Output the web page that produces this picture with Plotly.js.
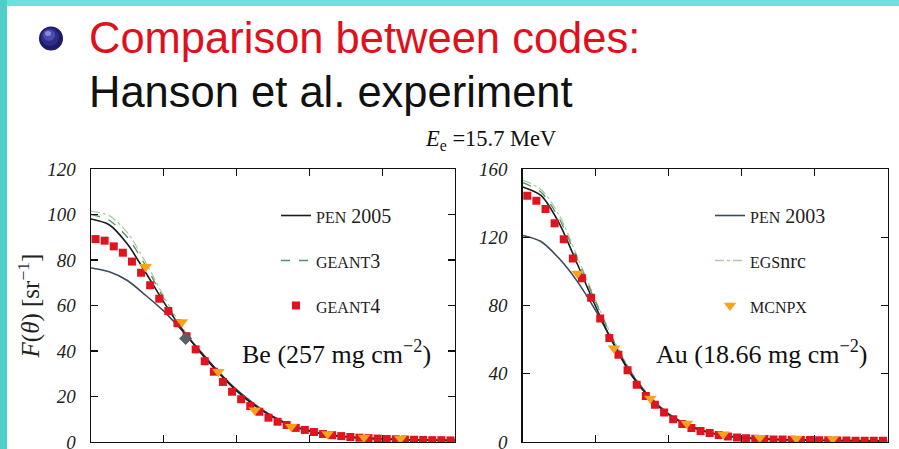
<!DOCTYPE html>
<html>
<head>
<meta charset="utf-8">
<script src="https://cdn.plot.ly/plotly-3.0.1.min.js"></script>
<style>html,body{margin:0;padding:0;background:#fff;}#chart{width:899px;height:449px;}</style>
</head>
<body>
<div id="chart"></div>
<script>
// ---- data ----
const xCurve = [0, 0.25, 0.5, 0.75, 1.0, 1.25, 1.5, 1.75, 2.0, 2.25, 2.5, 2.75, 3.0, 3.25, 3.5, 3.75, 4.0, 4.5, 5.0];

// Be (257 mg cm^-2)
const pen2005Be = [98, 95.5, 87, 74.5, 61.5, 49.5, 39.5, 30.5, 22.5, 16, 11, 7.2, 4.8, 3.3, 2.3, 1.7, 1.3, 0.9, 0.7];
const pen2003Be = [76.5, 74.8, 71, 64.5, 57.5, 49, 40, 31, 23, 16.5, 11.2, 7.4, 5, 3.4, 2.4, 1.8, 1.4, 0.9, 0.7];
const geant3Be  = [100, 97.5, 90, 77.5, 63, 50, 39.5, 30.5, 22.5, 16, 11, 7.2, 4.8, 3.2, 2.2, 1.6, 1.2, 0.8, 0.6];
const egsnrcBe  = [101.5, 99.5, 92, 79, 64, 50.5, 39.8, 30.8, 22.8, 16.2, 11.2, 7.3, 4.9, 3.3, 2.3, 1.7, 1.3, 0.9, 0.7];

// Au (18.66 mg cm^-2)
const pen2005Au = [149.5, 144.5, 128.2, 104.2, 79.4, 57, 38.5, 25.5, 16, 10, 6.2, 3.8, 2.5, 1.8, 1.4, 1.2, 1.0, 0.8, 0.6];
const pen2003Au = [121, 117.5, 107.5, 94, 77, 57.5, 39.5, 26, 16.5, 10.2, 6.3, 3.9, 2.6, 1.9, 1.5, 1.2, 1.0, 0.8, 0.6];
const geant3Au  = [152, 146.5, 131, 107, 82, 59, 40, 26.3, 16.5, 10.2, 6.3, 3.9, 2.5, 1.8, 1.4, 1.2, 1.0, 0.8, 0.6];
const egsnrcAu  = [153.5, 148, 133, 108.5, 83, 59.5, 40.5, 26.5, 16.7, 10.3, 6.4, 3.9, 2.5, 1.8, 1.4, 1.2, 1.0, 0.8, 0.6];

// GEANT4 (squares)
const xSquares = [0.0625, 0.1875, 0.3125, 0.4375, 0.5625, 0.6875, 0.8125, 0.9375, 1.0625, 1.1875,
                  1.3125, 1.4375, 1.5625, 1.6875, 1.8125, 1.9375, 2.0625, 2.1875, 2.3125, 2.4375,
                  2.5625, 2.6875, 2.8125, 2.9375, 3.0625, 3.1875, 3.3125, 3.4375, 3.5625, 3.6875,
                  3.8125, 3.9375, 4.0625, 4.1875, 4.3125, 4.4375, 4.5625, 4.6875, 4.8125, 4.9375];
const geant4Be = [89.2, 88.5, 86, 83.2, 79.3, 74.4, 68.9, 63, 57.6, 52.2,
                  46.5, 40.7, 35.5, 30.9, 26.4, 22.1, 18.8, 15.8, 13.3, 10.7,
                  8.9, 7.5, 6.2, 5.3, 4.4, 3.5, 3.0, 2.6, 2.2, 1.9,
                  1.7, 1.5, 1.3, 1.2, 1.1, 1.0, 0.9, 0.8, 0.8, 0.7];
const geant4Au = [144.3, 141.4, 136.5, 128.2, 118.8, 107.6, 95.9, 84.5, 72.4, 61,
                  51.2, 42, 33.5, 27, 21.8, 17.3, 13.3, 10.6, 8.2, 6.5,
                  5.3, 4.1, 3.2, 2.6, 2.2, 1.9, 1.7, 1.5, 1.4, 1.3,
                  1.2, 1.1, 1.0, 1.0, 0.9, 0.9, 0.8, 0.8, 0.7, 0.7];

// MCNPX (triangles)
const xTriangles = [0.75, 1.25, 1.75, 2.25, 2.75, 3.25, 3.75, 4.25];
const mcnpxBe = [77, 52.7, 30.9, 14, 6.7, 3.5, 2.0, 1.4];
const mcnpxAu = [98.8, 55, 25.5, 10.8, 4.5, 2.5, 2.0, 1.8];

// single grey point in the Be panel
const xGreyBe = [1.3];
const yGreyBe = [45.5];

// tick labels
const yTicksBe = [0, 20, 40, 60, 80, 100, 120];
const yTicksAu = [0, 40, 80, 120, 160];
const xTicks = [1, 2, 3, 4];

// ---- styles ----
const C_BLACK = '#1c1c1c', C_SLATE = '#3b4a5e', C_G3 = '#4f9468', C_EGS = '#b4c9a2',
      C_RED = '#e0141e', C_ORANGE = '#f9a31b', C_GREY = '#5a5e66';
const SERIF = 'Liberation Serif, Times New Roman, serif';

function line(x, y, name, color, dash, width, xa, ya, legend, show, rank) {
  return {type: 'scatter', mode: 'lines', x: x, y: y, name: name, xaxis: xa, yaxis: ya,
          line: {color: color, dash: dash, width: width, shape: 'spline', smoothing: 0.8},
          legend: legend, showlegend: show, legendgroup: name, legendrank: rank || 1000, hoverinfo: 'skip'};
}
function pts(x, y, name, color, symbol, size, xa, ya, legend, show, rank) {
  return {type: 'scatter', mode: 'markers', x: x, y: y, name: name, xaxis: xa, yaxis: ya,
          marker: {color: color, symbol: symbol, size: size, line: {width: 0}},
          legend: legend, showlegend: show, legendgroup: name, legendrank: rank || 1000, hoverinfo: 'skip'};
}
const sc = s => "<span style='font-size:16px'>" + s + "</span>";

const traces = [
  // Be panel
  line(xCurve, egsnrcBe, sc('EGS') + 'nrc', C_EGS, 'dashdot', 1.3, 'x', 'y', 'legend2', true, 2),
  line(xCurve, geant3Be, sc('GEANT') + '3', C_G3, 'dash', 1.3, 'x', 'y', 'legend', true, 2),
  line(xCurve, pen2003Be, sc('PEN') + ' 2003', C_SLATE, 'solid', 1.6, 'x', 'y', 'legend2', true, 1),
  line(xCurve, pen2005Be, sc('PEN') + ' 2005', C_BLACK, 'solid', 1.6, 'x', 'y', 'legend', true, 1),
  pts(xSquares, geant4Be, sc('GEANT') + '4', C_RED, 'square', 8, 'x', 'y', 'legend', true, 3),
  pts(xTriangles, mcnpxBe, sc('MCNPX'), C_ORANGE, 'triangle-down', 11, 'x', 'y', 'legend2', true, 3),
  pts(xGreyBe, yGreyBe, 'grey point', C_GREY, 'diamond', 10, 'x', 'y', 'legend', false),
  // Au panel
  line(xCurve, egsnrcAu, 'EGSnrc Au', C_EGS, 'dashdot', 1.3, 'x2', 'y2', 'legend2', false),
  line(xCurve, geant3Au, 'GEANT3 Au', C_G3, 'dash', 1.3, 'x2', 'y2', 'legend', false),
  line(xCurve, pen2003Au, 'PEN 2003 Au', C_SLATE, 'solid', 1.6, 'x2', 'y2', 'legend2', false),
  line(xCurve, pen2005Au, 'PEN 2005 Au', C_BLACK, 'solid', 1.6, 'x2', 'y2', 'legend', false),
  pts(xSquares, geant4Au, 'GEANT4 Au', C_RED, 'square', 8, 'x2', 'y2', 'legend', false),
  pts(xTriangles, mcnpxAu, 'MCNPX Au', C_ORANGE, 'triangle-down', 11, 'x2', 'y2', 'legend2', false)
];

const W = 899, H = 449;
const px = v => v / W, py = v => 1 - v / H;

const tickFont = {family: SERIF, size: 19, color: '#222'};
function xAxis(domain, anchor) {
  return {domain: domain, anchor: anchor, range: [0, 5], tickvals: xTicks, showticklabels: false,
          ticks: 'inside', ticklen: 7, tickwidth: 1.2, tickcolor: '#111', mirror: 'ticks',
          showline: true, linecolor: '#111', linewidth: 1.4, showgrid: false, zeroline: false, fixedrange: true};
}
function yAxis(domain, anchor, range, vals) {
  return {domain: domain, anchor: anchor, range: range, tickvals: vals, ticktext: vals.map(v => '<i>' + v + '</i>'),
          ticks: 'inside', ticklen: 7, tickwidth: 1.2, tickcolor: '#111', mirror: 'ticks',
          showline: true, linecolor: '#111', linewidth: 1.4, showgrid: false, zeroline: false,
          tickfont: tickFont, ticklabelstandoff: 10, ticklabeloverflow: 'allow', automargin: false, fixedrange: true};
}

const legendBase = {xanchor: 'left', yanchor: 'top', bgcolor: 'rgba(0,0,0,0)',
                    font: {family: SERIF, size: 20, color: '#222'}, traceorder: 'grouped', tracegroupgap: 16, itemwidth: 30};

const yDom = [py(442), py(169)];
const layout = {
  width: W, height: H, margin: {l: 0, r: 0, t: 0, b: 0},
  paper_bgcolor: '#ffffff', plot_bgcolor: '#ffffff',
  font: {family: SERIF, color: '#111'},
  xaxis: xAxis([px(91), px(455)], 'y'),
  yaxis: Object.assign(yAxis(yDom, 'x', [0, 120], yTicksBe), {
    title: {text: '<i>F</i>(<i>θ</i>) [sr<sup>−1</sup>]', font: {family: SERIF, size: 25, color: '#222'}, standoff: 0}
  }),
  xaxis2: xAxis([px(522.7), px(887.5)], 'y2'),
  yaxis2: yAxis(yDom, 'x2', [0, 160], yTicksAu),
  legend: Object.assign({x: px(276), y: py(196)}, legendBase),
  legend2: Object.assign({x: px(710), y: py(196)}, legendBase),
  shapes: [
    {type: 'rect', xref: 'paper', yref: 'paper', x0: 0, x1: 1, y0: py(6), y1: 1, fillcolor: '#6fe0e0', line: {width: 0}, layer: 'above'},
    {type: 'rect', xref: 'paper', yref: 'paper', x0: 0, x1: px(7), y0: 0, y1: 1, fillcolor: '#4fcfc8', line: {width: 0}, layer: 'above'},
    {type: 'circle', xref: 'paper', yref: 'paper', x0: px(39), x1: px(63), y0: py(50.5), y1: py(26.5), fillcolor: '#1c1c66', line: {width: 0}},
    {type: 'circle', xref: 'paper', yref: 'paper', x0: px(41), x1: px(59), y0: py(46), y1: py(28), fillcolor: '#2e2e8a', line: {width: 0}},
    {type: 'circle', xref: 'paper', yref: 'paper', x0: px(43), x1: px(55), y0: py(41), y1: py(29.5), fillcolor: '#4a4ab0', line: {width: 0}},
    {type: 'circle', xref: 'paper', yref: 'paper', x0: px(45), x1: px(51), y0: py(36), y1: py(31), fillcolor: '#8a8ad8', line: {width: 0}}
  ],
  annotations: [
    {xref: 'paper', yref: 'paper', x: px(87), y: py(38), xanchor: 'left', yanchor: 'middle', showarrow: false,
     text: 'Comparison between codes:', font: {family: 'Liberation Sans, Arial, sans-serif', size: 43.5, color: '#e0101c'}},
    {xref: 'paper', yref: 'paper', x: px(87), y: py(92), xanchor: 'left', yanchor: 'middle', showarrow: false,
     text: 'Hanson et al. experiment', font: {family: 'Liberation Sans, Arial, sans-serif', size: 43.5, color: '#111'}},
    {xref: 'paper', yref: 'paper', x: px(490), y: py(140), xanchor: 'center', yanchor: 'middle', showarrow: false,
     text: '<i>E</i><sub>e</sub> =15.7 MeV', font: {family: SERIF, size: 22.5, color: '#111'}},
    {xref: 'paper', yref: 'paper', x: px(336), y: py(352), xanchor: 'center', yanchor: 'middle', showarrow: false,
     text: 'Be (257 mg cm<sup>−2</sup>)', font: {family: SERIF, size: 26, color: '#111'}},
    {xref: 'paper', yref: 'paper', x: px(761), y: py(352), xanchor: 'center', yanchor: 'middle', showarrow: false,
     text: 'Au (18.66 mg cm<sup>−2</sup>)', font: {family: SERIF, size: 26, color: '#111'}}
  ]
};

Plotly.newPlot('chart', traces, layout, {displayModeBar: false, staticPlot: true});
</script>
</body>
</html>
